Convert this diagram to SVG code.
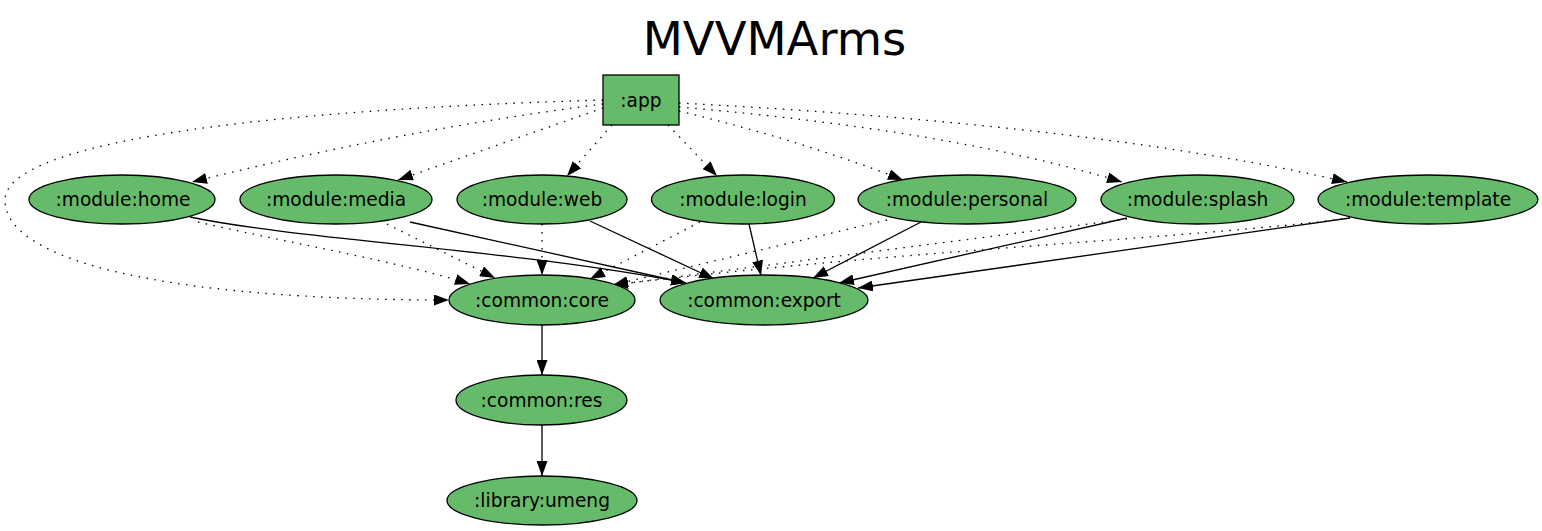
<svg xmlns="http://www.w3.org/2000/svg" width="1542" height="531" viewBox="0 0 1542 531">
<style>
.node { fill: #66bb6a; stroke: #000; stroke-width: 1.3; }
.lbl { font-family: "DejaVu Sans", "Liberation Sans", sans-serif; font-size: 18.6px; fill: #000; text-anchor: middle; }
.title { font-family: "DejaVu Sans", "Liberation Sans", sans-serif; font-size: 46.5px; fill: #000; text-anchor: middle; }
.e { fill: none; stroke: #000; stroke-width: 1.3; marker-end: url(#arr); }
.d { stroke-dasharray: 1.5 6.5; }
</style>
<defs>
<marker id="arr" viewBox="0 0 15 11" refX="15" refY="5.5" markerWidth="15" markerHeight="11" markerUnits="userSpaceOnUse" orient="auto">
<path d="M0,0 L15,5.5 L0,11 z" fill="#000" stroke="none"/>
</marker>
</defs>
<rect width="1542" height="531" fill="#fff"/>
<text class="title" x="774.5" y="55">MVVMArms</text>
<g id="connectors">
<path class="e d" d="M603,104 Q400,130 192,182"/>
<path class="e d" d="M603,108 L398,180"/>
<path class="e d" d="M612,125 L567,176"/>
<path class="e d" d="M668,125 L717,176"/>
<path class="e d" d="M679,111 Q800,140 903,180"/>
<path class="e d" d="M679,107 Q950,130 1122,182"/>
<path class="e d" d="M679,103 Q1100,125 1347,182"/>
<path class="e d" d="M603,100 C200,112 5,150 5,200 C5,262 170,300 449,300"/>
<path class="e d" d="M198,222 C290,243 400,262 470,284"/>
<path class="e d" d="M387,224 L495,278"/>
<path class="e d" d="M542,224 L542,275"/>
<path class="e d" d="M700,222 L590,279"/>
<path class="e d" d="M887,220 L613,285"/>
<path class="e d" d="M1127,219 L613,285"/>
<path class="e d" d="M1350,218 C1200,238 900,250 613,285"/>
<path class="e" d="M190,217 C300,240 520,250 686,283"/>
<path class="e" d="M410,222 L686,283"/>
<path class="e" d="M590,221 L714,279"/>
<path class="e" d="M749,224 L761,275.5"/>
<path class="e" d="M921,222 L813,278"/>
<path class="e" d="M1127,218 L839,283"/>
<path class="e" d="M1350,218 L858,288"/>
<path class="e" d="M542,325 L542,375"/>
<path class="e" d="M542,425 L542,476"/>
</g>
<g id="app"><rect class="node" x="603" y="75" width="76" height="50"/><text class="lbl" x="641" y="106.5">:app</text></g>
<g id="module_home"><ellipse class="node" cx="122" cy="199.5" rx="93" ry="24.5"/><text class="lbl" x="123" y="206">:module:home</text></g>
<g id="module_media"><ellipse class="node" cx="336" cy="199.5" rx="96" ry="24.5"/><text class="lbl" x="336" y="206">:module:media</text></g>
<g id="module_web"><ellipse class="node" cx="542" cy="199.5" rx="85" ry="24.5"/><text class="lbl" x="542" y="206">:module:web</text></g>
<g id="module_login"><ellipse class="node" cx="743" cy="199.5" rx="91.5" ry="24.5"/><text class="lbl" x="743" y="206">:module:login</text></g>
<g id="module_personal"><ellipse class="node" cx="967" cy="199.5" rx="109" ry="24.5"/><text class="lbl" x="967" y="206">:module:personal</text></g>
<g id="module_splash"><ellipse class="node" cx="1197.5" cy="199.5" rx="96.5" ry="24.5"/><text class="lbl" x="1197.5" y="206">:module:splash</text></g>
<g id="module_template"><ellipse class="node" cx="1428" cy="199.5" rx="110" ry="24.5"/><text class="lbl" x="1428" y="206">:module:template</text></g>
<g id="common_core"><ellipse class="node" cx="542" cy="300" rx="93" ry="25"/><text class="lbl" x="542" y="306.5">:common:core</text></g>
<g id="common_export"><ellipse class="node" cx="764" cy="300" rx="104" ry="25"/><text class="lbl" x="764" y="306.5">:common:export</text></g>
<g id="common_res"><ellipse class="node" cx="541.5" cy="400" rx="85.5" ry="25"/><text class="lbl" x="541.5" y="406.5">:common:res</text></g>
<g id="library_umeng"><ellipse class="node" cx="542" cy="500.5" rx="95" ry="24.5"/><text class="lbl" x="542" y="507">:library:umeng</text></g>
</svg>
